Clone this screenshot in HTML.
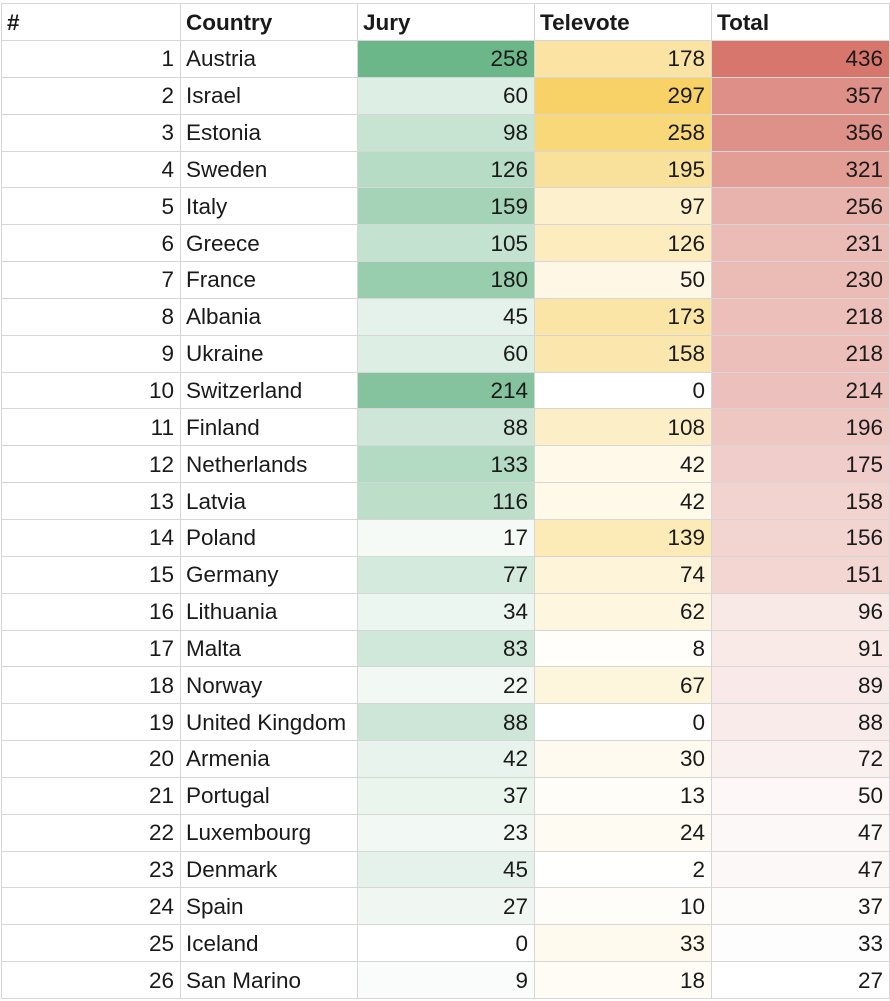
<!DOCTYPE html>
<html><head><meta charset="utf-8"><style>
body{margin:0;background:#fff;width:890px;height:1001px;overflow:hidden;font-family:"Liberation Sans",Arial,sans-serif;}
table{border-collapse:collapse;position:absolute;left:1px;top:3px;table-layout:fixed;}
td{border:1px solid #d6d6d6;height:35.85px;padding:0 6px 0 5px;font-size:22.5px;color:#1a1a1a;white-space:nowrap;overflow:hidden;line-height:35px}
tr:first-child td{font-weight:bold;height:36px;text-align:left!important}
td.n{text-align:right}
</style></head><body>
<table>
<colgroup><col style="width:179px"><col style="width:177px"><col style="width:177px"><col style="width:177px"><col style="width:178px"></colgroup>
<tbody id="tb">
<tr><td>#</td><td>Country</td><td>Jury</td><td>Televote</td><td>Total</td></tr>
<tr><td class="n">1</td><td>Austria</td><td class="n j">258</td><td class="n t">178</td><td class="n o">436</td></tr>
<tr><td class="n">2</td><td>Israel</td><td class="n j">60</td><td class="n t">297</td><td class="n o">357</td></tr>
<tr><td class="n">3</td><td>Estonia</td><td class="n j">98</td><td class="n t">258</td><td class="n o">356</td></tr>
<tr><td class="n">4</td><td>Sweden</td><td class="n j">126</td><td class="n t">195</td><td class="n o">321</td></tr>
<tr><td class="n">5</td><td>Italy</td><td class="n j">159</td><td class="n t">97</td><td class="n o">256</td></tr>
<tr><td class="n">6</td><td>Greece</td><td class="n j">105</td><td class="n t">126</td><td class="n o">231</td></tr>
<tr><td class="n">7</td><td>France</td><td class="n j">180</td><td class="n t">50</td><td class="n o">230</td></tr>
<tr><td class="n">8</td><td>Albania</td><td class="n j">45</td><td class="n t">173</td><td class="n o">218</td></tr>
<tr><td class="n">9</td><td>Ukraine</td><td class="n j">60</td><td class="n t">158</td><td class="n o">218</td></tr>
<tr><td class="n">10</td><td>Switzerland</td><td class="n j">214</td><td class="n t">0</td><td class="n o">214</td></tr>
<tr><td class="n">11</td><td>Finland</td><td class="n j">88</td><td class="n t">108</td><td class="n o">196</td></tr>
<tr><td class="n">12</td><td>Netherlands</td><td class="n j">133</td><td class="n t">42</td><td class="n o">175</td></tr>
<tr><td class="n">13</td><td>Latvia</td><td class="n j">116</td><td class="n t">42</td><td class="n o">158</td></tr>
<tr><td class="n">14</td><td>Poland</td><td class="n j">17</td><td class="n t">139</td><td class="n o">156</td></tr>
<tr><td class="n">15</td><td>Germany</td><td class="n j">77</td><td class="n t">74</td><td class="n o">151</td></tr>
<tr><td class="n">16</td><td>Lithuania</td><td class="n j">34</td><td class="n t">62</td><td class="n o">96</td></tr>
<tr><td class="n">17</td><td>Malta</td><td class="n j">83</td><td class="n t">8</td><td class="n o">91</td></tr>
<tr><td class="n">18</td><td>Norway</td><td class="n j">22</td><td class="n t">67</td><td class="n o">89</td></tr>
<tr><td class="n">19</td><td>United Kingdom</td><td class="n j">88</td><td class="n t">0</td><td class="n o">88</td></tr>
<tr><td class="n">20</td><td>Armenia</td><td class="n j">42</td><td class="n t">30</td><td class="n o">72</td></tr>
<tr><td class="n">21</td><td>Portugal</td><td class="n j">37</td><td class="n t">13</td><td class="n o">50</td></tr>
<tr><td class="n">22</td><td>Luxembourg</td><td class="n j">23</td><td class="n t">24</td><td class="n o">47</td></tr>
<tr><td class="n">23</td><td>Denmark</td><td class="n j">45</td><td class="n t">2</td><td class="n o">47</td></tr>
<tr><td class="n">24</td><td>Spain</td><td class="n j">27</td><td class="n t">10</td><td class="n o">37</td></tr>
<tr><td class="n">25</td><td>Iceland</td><td class="n j">0</td><td class="n t">33</td><td class="n o">33</td></tr>
<tr><td class="n">26</td><td>San Marino</td><td class="n j">9</td><td class="n t">18</td><td class="n o">27</td></tr>
</tbody></table>
<script>
function paint(cls,max,min,c){
 document.querySelectorAll('td.'+cls).forEach(function(td){
  var v=+td.textContent,f=(v-min)/(max-min);
  var r=Math.round(255+(c[0]-255)*f),g=Math.round(255+(c[1]-255)*f),b=Math.round(255+(c[2]-255)*f);
  td.style.background='rgb('+r+','+g+','+b+')';
 });
}
paint('j',258,0,[108,183,138]);
paint('t',297,0,[248,210,102]);
paint('o',436,27,[214,118,108]);
</script>
</body></html>
